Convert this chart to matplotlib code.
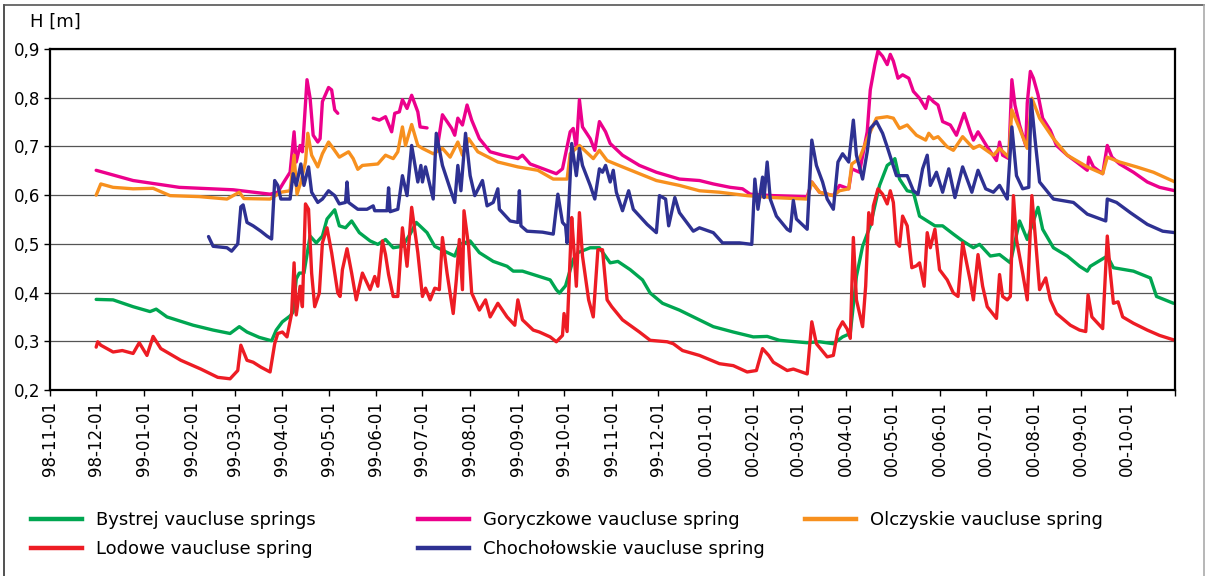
import numpy as np
import pandas as pd
import matplotlib
matplotlib.use("Agg")
import matplotlib.pyplot as plt
from matplotlib.lines import Line2D

# water level H [m], (day since 1998-11-01, value)
start = pd.Timestamp("1998-11-01")

bystrej = [(30, .386), (41, .385), (54, .371), (65, .361), (69, .366), (76, .350), (84, .342), (93, .333),
           (106, .323), (117, .316), (123, .330), (128, .319), (136, .308), (144, .301), (147, .323), (151, .340),
           (156, .352), (158, .360), (160, .428), (162, .440), (165, .440), (169, .516), (173, .502), (177, .516),
           (180, .551), (185, .570), (188, .537), (192, .533), (196, .547), (201, .523), (208, .506), (213, .499),
           (218, .509), (223, .492), (229, .495), (234, .520), (238, .544), (245, .523), (250, .495), (255, .487),
           (263, .475), (266, .499), (273, .506), (279, .482), (288, .464), (297, .454), (301, .444), (307, .444),
           (318, .433), (325, .426), (329, .406), (331, .399), (335, .414), (340, .468), (343, .482), (351, .492),
           (357, .492), (364, .461), (369, .464), (377, .447), (385, .426), (390, .399), (398, .378), (409, .364),
           (420, .347), (431, .330), (444, .319), (457, .309), (466, .310), (474, .302), (492, .297), (500, .299),
           (509, .295), (515, .309), (520, .316), (524, .433), (528, .495), (533, .537), (539, .620), (544, .661),
           (547, .668), (549, .675), (552, .633), (557, .609), (561, .606), (565, .557), (570, .547), (575, .537),
           (580, .537), (587, .520), (593, .506), (600, .492), (604, .499), (611, .475), (617, .478), (624, .461),
           (630, .547), (635, .509), (642, .575), (645, .530), (652, .492), (661, .475), (669, .454), (674, .444),
           (676, .454), (687, .475), (691, .451), (704, .444), (715, .430), (719, .392), (730, .378)]

lodowe = [(30, .288), (31, .299), (33, .292), (41, .278), (47, .281), (54, .275), (58, .297), (63, .271),
          (67, .310), (72, .285), (85, .261), (98, .243), (109, .226), (117, .223), (122, .240), (124, .292),
          (128, .261), (132, .257), (137, .247), (143, .237), (146, .295), (148, .316), (151, .319), (154, .309),
          (157, .357), (158.6, .461), (160, .354), (162.5, .413), (164, .371), (166, .582), (168, .571), (170, .440),
          (172, .371), (175, .399), (177, .502), (180, .533), (183, .482), (187, .399), (188.5, .392), (190, .447),
          (193, .490), (196, .440), (199, .385), (203, .440), (208, .406), (211, .433), (213, .413), (216, .506),
          (218, .478), (220, .437), (223, .392), (226, .392), (229, .533), (232, .454), (235, .575), (239, .482),
          (242, .392), (244, .409), (247, .385), (250, .409), (253, .406), (255, .513), (258, .440), (262, .357),
          (264, .426), (266, .509), (268, .406), (269, .568), (272, .495), (274, .399), (279, .364), (283, .385),
          (286, .350), (291, .378), (297, .350), (302, .333), (304, .385), (307, .344), (314, .323), (318, .319),
          (325, .309), (329, .299), (333, .312), (334, .357), (336, .320), (339, .554), (340, .509), (342, .413),
          (344, .564), (346, .475), (350, .385), (353, .350), (356, .488), (359, .488), (362, .385), (365, .371),
          (372, .344), (383, .319), (390, .302), (401, .299), (405, .295), (411, .281), (422, .271), (435, .254),
          (444, .250), (453, .237), (459, .240), (463, .285), (467, .271), (470, .257), (479, .240), (483, .243),
          (492, .233), (495, .340), (498, .295), (505, .268), (509, .271), (512, .323), (515, .340), (518, .325),
          (520, .306), (522, .513), (524, .385), (528, .330), (530, .413), (532, .564), (534, .540), (535, .578),
          (538, .613), (541, .602), (544, .582), (546, .609), (548, .585), (550, .502), (552, .495), (554, .557),
          (557, .537), (560, .451), (563, .455), (565, .461), (568, .413), (570, .523), (572, .492), (575, .530),
          (578, .447), (583, .426), (587, .399), (590, .392), (593, .502), (596, .454), (598, .423), (600, .385),
          (603, .478), (606, .413), (609, .371), (615, .347), (617, .437), (619, .392), (622, .385), (624, .392),
          (626, .599), (628, .509), (632, .440), (635, .385), (638, .599), (640, .523), (643, .406), (647, .430),
          (650, .385), (654, .357), (663, .333), (669, .323), (673, .320), (674.5, .395), (677, .350), (684, .326),
          (687, .516), (689, .440), (691, .378), (694, .381), (697, .350), (704, .337), (713, .323), (721, .312),
          (731, .302)]

goryczkowe = [(30, .651), (54, .630), (84, .616), (119, .611), (143, .602), (148, .606), (152, .627), (156, .647),
              (158.6, .730), (160, .668), (162.5, .702), (164, .689), (167, .837), (169, .799), (171, .723),
              (174, .709), (175.5, .716), (177, .792), (181, .821), (183, .816), (185, .775), (187, .768),
              (198, np.nan),
              (210, .758), (214, .754), (218, .761), (222, .730), (224, .768), (227, .771), (229, .796), (232, .778),
              (235, .805), (239, .771), (240.5, .740), (245, .738),
              (248, np.nan),
              (252, .704), (255, .765), (261, .737), (263, .723), (265, .758), (268, .744), (271, .785), (274, .754),
              (279, .716), (286, .689), (294, .682), (304, .675), (307, .682), (312, .664), (323, .651), (329, .644),
              (333, .654), (338, .730), (340, .737), (342, .696), (344, .796), (346, .740), (351, .716), (354, .692),
              (357, .751), (361, .730), (364, .706), (372, .682), (383, .661), (394, .647), (409, .633), (422, .630),
              (431, .623), (442, .616), (450, .613), (455, .602), (470, .599), (492, .597), (495, .627), (500, .606),
              (509, .599), (513, .620), (519, .613), (521, .654), (526, .647), (531, .730), (533, .816), (536, .868),
              (538, .896), (541, .885), (544, .868), (546, .889), (548, .875), (551, .840), (554, .847), (558, .840),
              (561, .813), (565, .799), (569, .778), (571, .802), (574, .792), (577, .785), (580, .751), (585, .744),
              (589, .723), (594, .768), (598, .730), (600, .713), (603, .730), (609, .699), (615, .671), (617, .709),
              (619, .682), (623, .675), (625, .837), (627, .785), (630, .744), (634, .702), (635, .789), (637, .854),
              (639, .840), (642, .806), (645, .758), (650, .733), (654, .702), (661, .682), (667, .668), (674, .651),
              (675, .678), (678, .658), (684, .644), (687, .702), (690, .678), (695, .664), (704, .647), (713, .627),
              (721, .616), (731, .609)]

olczyskie = [(30, .600), (33, .623), (41, .616), (54, .613), (67, .614), (78, .599), (97, .597), (115, .592),
             (123, .606), (126, .593), (143, .592), (150, .606), (156, .609), (158.6, .682), (160.5, .602),
             (163, .627), (166, .668), (167.5, .727), (170, .682), (174, .658), (177, .685), (181, .709), (184, .696),
             (188, .678), (194, .689), (197, .675), (200, .653), (203, .661), (213, .664), (218, .682), (223, .675),
             (226, .689), (229, .740), (231, .702), (235, .745), (239, .702), (242, .696), (249, .685), (255, .696),
             (260, .678), (265, .709), (268, .682), (272, .716), (278, .689), (291, .668), (304, .658), (317, .651),
             (327, .633), (336, .633), (338, .685), (344, .702), (353, .675), (357, .692), (362, .671), (372, .658),
             (383, .644), (394, .630), (409, .620), (422, .609), (435, .606), (453, .599), (470, .595), (492, .592),
             (495, .627), (500, .606), (509, .599), (513, .609), (519, .613), (521, .664), (526, .675), (531, .716),
             (537, .758), (544, .761), (548, .758), (552, .737), (557, .744), (563, .723), (569, .713), (571, .727),
             (574, .716), (577, .720), (583, .699), (587, .692), (593, .720), (600, .696), (604, .702), (613, .682),
             (617, .696), (623, .678), (625, .775), (630, .737), (635, .696), (638, .799), (643, .758), (652, .716),
             (661, .682), (674, .658), (684, .644), (687, .678), (695, .668), (706, .658), (717, .647), (731, .627)]

chocholowskie = [(103, .515), (106, .495), (115, .492), (118, .485), (122, .500), (124, .576), (125.5, .580),
                 (128, .544), (132, .537), (137, .526), (141, .516), (144, .510), (146, .630), (148, .620),
                 (150, .592), (156, .592), (158, .644), (160, .620), (163, .664), (165, .620), (168, .658),
                 (170, .606), (174, .585), (177, .592), (181, .609), (185, .599), (188, .582), (192, .585),
                 (193, .627), (194, .585), (200, .571), (206, .571), (210, .578), (211, .568), (219, .568),
                 (220, .615), (221, .566), (226, .571), (229, .640), (232, .599), (235, .702), (239, .627),
                 (241, .661), (242, .627), (244, .658), (249, .592), (251, .727), (255, .661), (260, .613),
                 (263, .585), (265, .661), (267, .609), (270, .727), (273, .640), (276, .599), (281, .630),
                 (284, .578), (288, .585), (291, .613), (292, .571), (299, .547), (304, .544), (305, .609),
                 (306, .537), (310, .526), (320, .524), (327, .520), (330, .602), (333, .544), (335, .537),
                 (336, .502), (339, .706), (342, .640), (344, .696), (346, .661), (351, .620), (354, .592),
                 (357, .654), (359, .647), (361, .661), (364, .627), (366, .651), (368, .606), (372, .568),
                 (376, .609), (379, .571), (388, .540), (394, .523), (396, .599), (400, .592), (402, .537),
                 (406, .595), (409, .564), (418, .526), (422, .533), (431, .523), (437, .502), (448, .502),
                 (456, .499), (458, .633), (460, .571), (463, .637), (464, .595), (466, .668), (468, .592),
                 (472, .557), (479, .530), (481, .526), (483, .589), (485, .551), (492, .530), (495, .713),
                 (498, .661), (502, .627), (505, .592), (509, .571), (512, .668), (515, .685), (519, .668),
                 (522, .754), (524, .682), (528, .633), (531, .689), (533, .737), (537, .751), (541, .727),
                 (544, .699), (550, .640), (557, .640), (561, .609), (564, .602), (567, .654), (570, .682),
                 (572, .620), (576, .647), (580, .606), (584, .654), (588, .595), (593, .658), (599, .606),
                 (603, .651), (608, .613), (613, .606), (617, .620), (622, .592), (625, .740), (628, .640),
                 (632, .613), (636, .616), (637.5, .796), (640, .716), (643, .627), (652, .592), (665, .585),
                 (674, .561), (680, .554), (686, .547), (687, .592), (693, .585), (702, .564), (713, .540),
                 (723, .526), (731, .523)]

labels = ["Bystrej vaucluse springs", "Lodowe vaucluse spring", "Goryczkowe vaucluse spring",
          "Chochołowskie vaucluse spring", "Olczyskie vaucluse spring"]
colors = {"Bystrej vaucluse springs": "#00a651", "Lodowe vaucluse spring": "#ed1c24",
          "Goryczkowe vaucluse spring": "#ec008c", "Chochołowskie vaucluse spring": "#2e3192",
          "Olczyskie vaucluse spring": "#f7901e"}

month_ticks = pd.date_range("1998-11-01", "2000-11-01", freq="MS")


def to_dates(series):
    days, vals = zip(*series)
    return start + pd.to_timedelta(np.array(days), unit="D"), np.array(vals, dtype=float)


fig = plt.figure(figsize=(12.06, 5.76), dpi=100)
ax = fig.add_axes([50 / 1206, 186 / 576, 1125 / 1206, 341 / 576])

draw_order = [("Bystrej vaucluse springs", bystrej), ("Goryczkowe vaucluse spring", goryczkowe),
              ("Olczyskie vaucluse spring", olczyskie), ("Lodowe vaucluse spring", lodowe),
              ("Chochołowskie vaucluse spring", chocholowskie)]
for name, series in draw_order:
    x, y = to_dates(series)
    ax.plot(x, y, color=colors[name], lw=2.4, solid_joinstyle="round", solid_capstyle="round")

ax.set_xlim(month_ticks[0], month_ticks[-1])
ax.set_ylim(0.2, 0.9)
ax.set_yticks(np.arange(0.2, 0.91, 0.1))
ax.set_yticklabels([f"{v:.1f}".replace(".", ",") for v in np.arange(0.2, 0.91, 0.1)])
ax.set_xticks(month_ticks)
ax.set_xticklabels([d.strftime("%y-%m-%d") for d in month_ticks[:-1]] + [""], rotation=90)
ax.tick_params(axis="both", length=4, width=1, labelsize=12, colors="black")
ax.tick_params(axis="x", pad=4)
ax.tick_params(axis="y", pad=3)
ax.grid(axis="y", color="#555555", lw=0.9)
ax.set_axisbelow(True)
for s in ax.spines.values():
    s.set_linewidth(1.6)
    s.set_color("black")

fig.text(30 / 1206, 1 - 22 / 576, "H [m]", fontsize=13, ha="left", va="center")

# legend, three columns
columns = [(31, labels[0:2]), (418, labels[2:4]), (805, labels[4:5])]
for x0, names in columns:
    handles = [Line2D([], [], color=colors[n], lw=3.2) for n in names]
    leg = fig.legend(handles, names, loc="upper left", bbox_to_anchor=(x0 / 1206, 1 - 511 / 576),
                     frameon=False, fontsize=13, borderpad=0, borderaxespad=0, handlelength=2.85,
                     handletextpad=0.75, labelspacing=0.6)

# outer frame
fig.add_artist(Line2D([4 / 1206, 4 / 1206], [0, 1 - 5 / 576], color="#333333", lw=1.2))
fig.add_artist(Line2D([4 / 1206, 1204 / 1206], [1 - 5 / 576, 1 - 5 / 576], color="#555555", lw=1.2))
fig.add_artist(Line2D([1204 / 1206, 1204 / 1206], [0, 1 - 5 / 576], color="#aaaaaa", lw=1.2))

fig.savefig("out.png", dpi=100)
